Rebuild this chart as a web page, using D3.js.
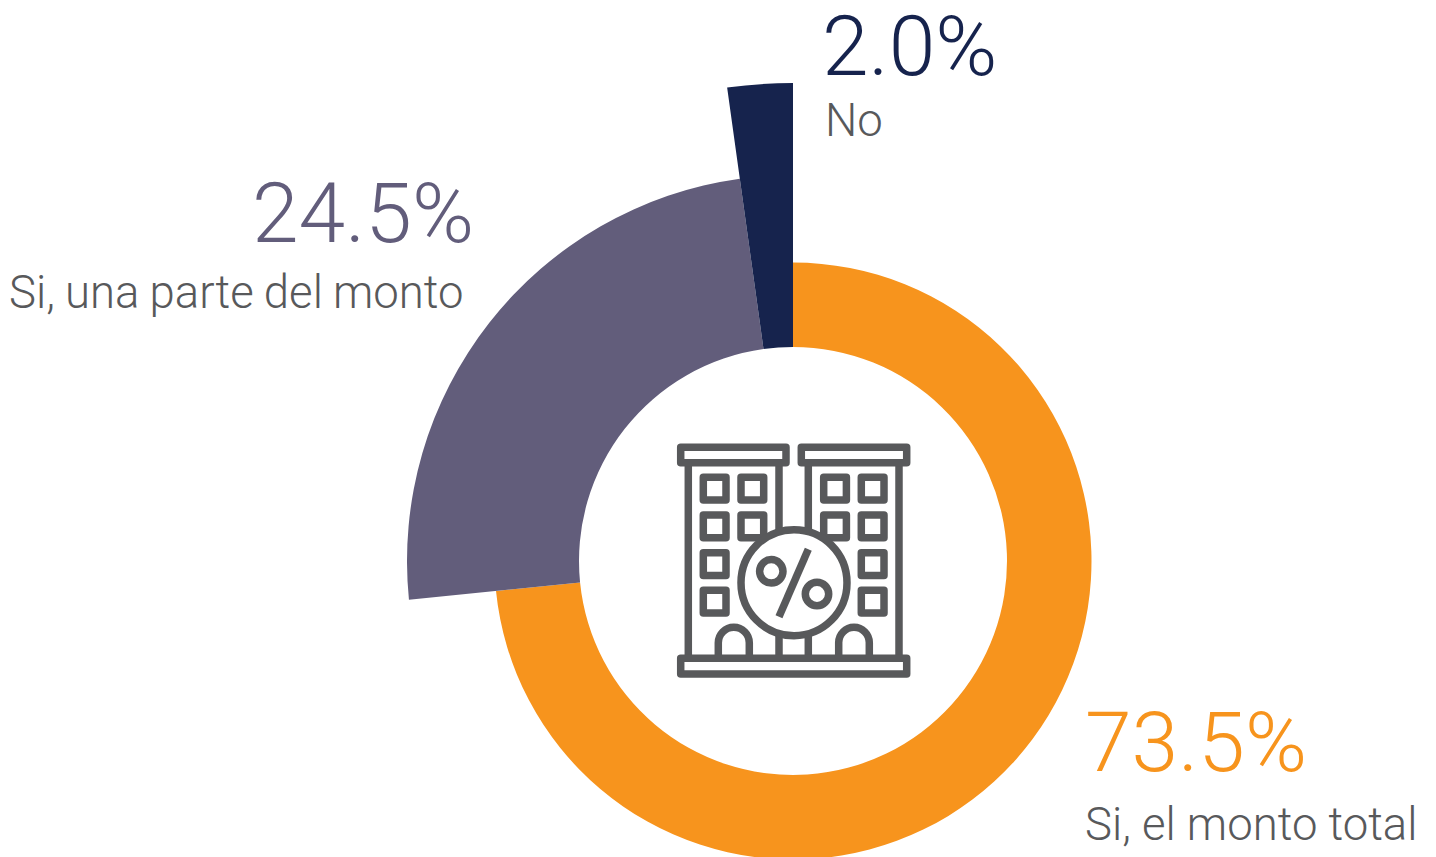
<!DOCTYPE html>
<html>
<head>
<meta charset="utf-8">
<script src="https://cdnjs.cloudflare.com/ajax/libs/d3/7.8.5/d3.min.js"></script>
<style>
  html, body { margin: 0; padding: 0; background: #fff; }
  svg { display: block; }
  text { font-family: Roboto, sans-serif; font-weight: 300; }
</style>
</head>
<body>
<div id="chart"></div>
<script>
const categories = ["Si, el monto total", "Si, una parte del monto", "No"];
// slice sizes as drawn in the picture, the printed labels round them differently
const values = [73.4, 24.4, 2.2];
const valueLabels = ["73.5%", "24.5%", "2.0%"];

const WIDTH = 1436, HEIGHT = 857;
const CENTER = { X: 793, Y: 561 };
const INNER_RADIUS = 214;

const color = d3.scaleOrdinal().domain(categories).range(["#f7941d", "#625d7b", "#16234d"]);
// each slice has its own outer radius, the smaller the share the longer it sticks out
const outerRadius = d3.scaleOrdinal().domain(categories).range([298.5, 386, 478]);
const labelPos = d3.scaleOrdinal().domain(categories).range([
    { vx: 1085, vy: 771, lx: 1085, ly: 840, gap: 0 },
    { vx: 252, vy: 242, lx: 9, ly: 308, gap: -1 },
    { vx: 822, vy: 75, lx: 825, ly: 136, gap: 0 }
]);

const svg = d3.select("#chart").append("svg")
    .attr("width", WIDTH)
    .attr("height", HEIGHT);

const pie = d3.pie().sort(null).value(d => d.value);
const arc = d3.arc()
    .innerRadius(INNER_RADIUS)
    .outerRadius(d => outerRadius(d.data.name));

const rows = categories.map((name, i) => ({ name, value: values[i], label: valueLabels[i] }));

svg.append("g")
    .attr("transform", `translate(${CENTER.X}, ${CENTER.Y})`)
    .selectAll("path")
    .data(pie(rows))
    .enter().append("path")
    .attr("d", arc)
    .attr("fill", d => color(d.data.name));

rows.forEach(d => {
    const pos = labelPos(d.name);
    svg.append("text")
        .attr("x", pos.vx).attr("y", pos.vy)
        .attr("font-size", 84)
        .attr("fill", color(d.name))
        .text(d.label);
    svg.append("text")
        .attr("x", pos.lx).attr("y", pos.ly)
        .attr("font-size", 45.5)
        .attr("word-spacing", pos.gap)
        .attr("fill", "#58595b")
        .text(d.name);
});

// building icon in the hole
const icon = svg.append("g")
    .attr("fill", "none")
    .attr("stroke", "#58595b")
    .attr("stroke-width", 7.5)
    .attr("stroke-linejoin", "round");

const box = (x0, y0, x1, y1) => {
    const p = d3.path();
    p.rect(x0, y0, x1 - x0, y1 - y0);
    icon.append("path").attr("d", p.toString());
};
const line = (x0, y0, x1, y1) => {
    const p = d3.path();
    p.moveTo(x0, y0);
    p.lineTo(x1, y1);
    icon.append("path").attr("d", p.toString());
};
const door = (x0, x1, top, bottom) => {
    const r = (x1 - x0) / 2;
    const p = d3.path();
    p.moveTo(x0, bottom);
    p.lineTo(x0, top + r);
    p.arc(x0 + r, top + r, r, Math.PI, 0);
    p.lineTo(x1, bottom);
    icon.append("path").attr("d", p.toString());
};

[688.3, 779, 808.3, 899].forEach(x => line(x, 462.7, x, 658.3));
box(680.7, 447.3, 786, 462.7);
box(801.3, 447.3, 906.7, 462.7);
box(680.7, 658.3, 906.7, 674);

[
    [703.3, 477.3], [741, 477.3], [703.3, 515], [741, 515], [703.3, 552.7], [703.3, 590.3],
    [823.7, 477.3], [861.3, 477.3], [823.7, 515], [861.3, 515], [861.3, 552.7], [861.3, 590.3]
].forEach(([x, y]) => box(x, y, x + 22.7, y + 22.7));

door(718.3, 749.3, 627.3, 658.3);
door(838.7, 869.3, 627.3, 658.3);

icon.append("circle").attr("cx", 794).attr("cy", 582.7).attr("r", 53).attr("fill", "#fff");
line(808.3, 549.3, 779, 616.7);
icon.append("circle").attr("cx", 771.3).attr("cy", 571.3).attr("r", 11.7);
icon.append("circle").attr("cx", 817).attr("cy", 594).attr("r", 11.7);
</script>
</body>
</html>
